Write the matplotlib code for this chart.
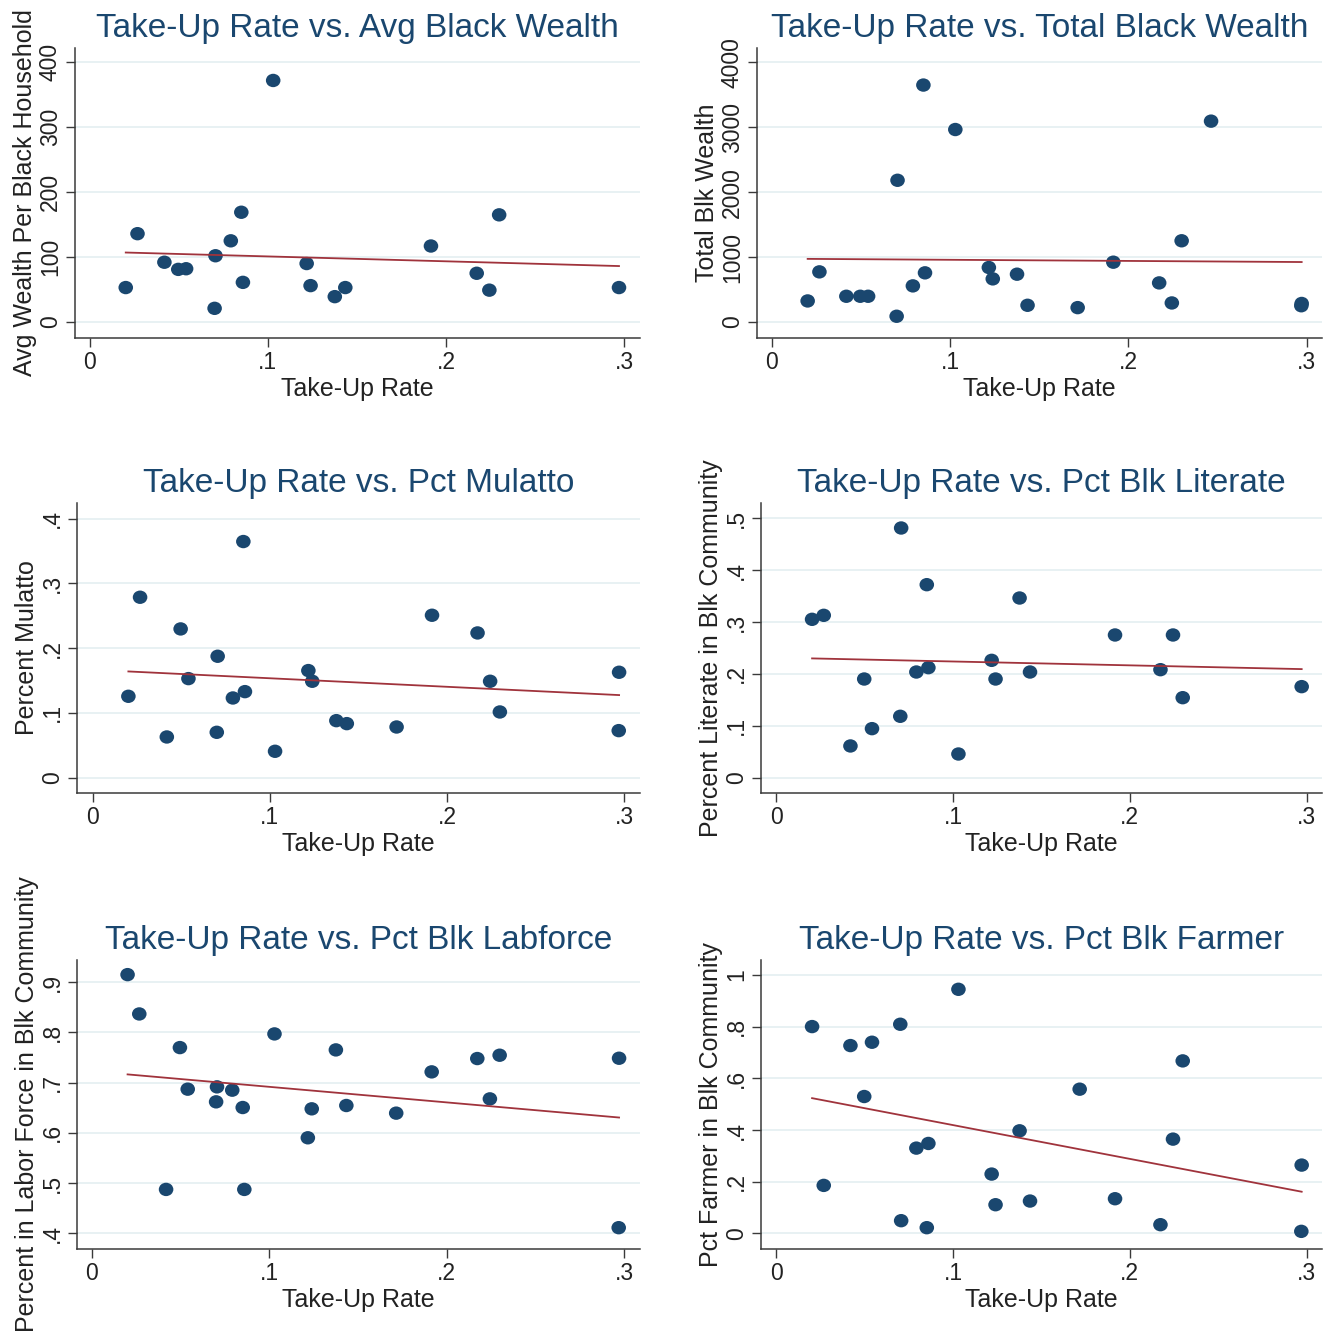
import numpy as np
import matplotlib
matplotlib.use("Agg")
import matplotlib.pyplot as plt
from matplotlib.path import Path
from matplotlib.transforms import Affine2D

nan = np.nan

# Shared x values (take-up rate per county)
take_up = [0.0202, 0.0268, 0.0419, 0.0497, 0.0541, 0.0701, 0.0706, 0.0792,
           0.0851, 0.0860, 0.1030, 0.1218, 0.1240, 0.1376, 0.1435, 0.1716,
           0.1916, 0.2173, 0.2244, 0.2299, 0.2464, 0.2970, 0.2972]

avg_wealth = [53, 136, 92, 81, 82, 21, 102, 125,
              169, 61, 372, 90, 56, 39, 53, nan,
              117, 75, 49, 165, nan, nan, 53]

total_wealth = [324, 772, 396, 396, 396, 88, 2183, 556,
                3650, 757, 2965, 839, 664, 736, 257, 221,
                921, 602, 293, 1251, 3094, 250, 285]

pct_mulatto = [0.1256, 0.2785, 0.0628, 0.2296, 0.1529, 0.0700, 0.1874, 0.1230,
               0.3645, 0.1328, 0.0407, 0.1653, 0.1488, 0.0880, 0.0834, 0.0782,
               0.2507, 0.2234, 0.1488, 0.1014, nan, 0.0726, 0.1627]

pct_literate = [0.3053, 0.3130, 0.0611, 0.1902, 0.0945, 0.1183, 0.4814, 0.2037,
                0.3721, 0.2121, 0.0456, 0.2262, 0.1902, 0.3464, 0.2037, nan,
                0.2751, 0.2082, 0.2751, 0.1542, nan, nan, 0.1755]

pct_labforce = [0.9146, 0.8364, 0.4874, 0.7695, 0.6868, 0.6616, 0.6914, 0.6848,
                0.6503, 0.4874, 0.7967, 0.5901, 0.6477, 0.7649, 0.6543, 0.6391,
                0.7212, 0.7477, 0.6675, 0.7543, nan, 0.4113, 0.7483]

pct_farmer = [0.8003, 0.1856, 0.7268, 0.5296, 0.7397, 0.8093, 0.0490, 0.3299,
              0.0219, 0.3479, 0.9446, 0.2294, 0.1108, 0.3969, 0.1250, 0.5580,
              0.1340, 0.0335, 0.3647, 0.6675, nan, 0.0077, 0.2642]

titles = ["Take-Up Rate vs. Avg Black Wealth", "Take-Up Rate vs. Total Black Wealth",
          "Take-Up Rate vs. Pct Mulatto", "Take-Up Rate vs. Pct Blk Literate",
          "Take-Up Rate vs. Pct Blk Labforce", "Take-Up Rate vs. Pct Blk Farmer"]
ylabels = ["Avg Wealth Per Black Household", "Total Blk Wealth", "Percent Mulatto",
           "Percent Literate in Blk Community", "Percent in Labor Force in Blk Community",
           "Pct Farmer in Blk Community"]
x_ticks = [0, 0.1, 0.2, 0.3]
x_ticklabels = ["0", ".1", ".2", ".3"]
y_ticks = [[0, 100, 200, 300, 400],
           [0, 1000, 2000, 3000, 4000],
           [0, 0.1, 0.2, 0.3, 0.4],
           [0, 0.1, 0.2, 0.3, 0.4, 0.5],
           [0.4, 0.5, 0.6, 0.7, 0.8, 0.9],
           [0, 0.2, 0.4, 0.6, 0.8, 1.0]]
y_ticklabels = [["0", "100", "200", "300", "400"],
                ["0", "1000", "2000", "3000", "4000"],
                ["0", ".1", ".2", ".3", ".4"],
                ["0", ".1", ".2", ".3", ".4", ".5"],
                [".4", ".5", ".6", ".7", ".8", ".9"],
                ["0", ".2", ".4", ".6", ".8", "1"]]
series = [avg_wealth, total_wealth, pct_mulatto, pct_literate, pct_labforce, pct_farmer]

W, H = 1334, 1332
# axes boxes in pixels: left, right, top, bottom ; and limits
boxes = [(75, 640, 48, 338), (757, 1322, 48, 338),
         (77, 640, 503, 793), (761, 1322, 503, 793),
         (77, 640, 960, 1249), (761, 1322, 960, 1249)]
xlims = [(-0.0083, 0.309), (-0.0082, 0.3086), (-0.0088, 0.309),
         (-0.0087, 0.3087), (-0.0083, 0.309), (-0.0087, 0.3087)]
ylims = [(-24.7, 422), (-247, 4221), (-0.0237, 0.424),
         (-0.0296, 0.5296), (0.3689, 0.9437), (-0.0606, 1.058)]

navy = "#1a476f"
maroon = "#a0333c"
gridc = "#e6f0f2"
axc = "#3a3a3a"
font = ["Liberation Sans", "DejaVu Sans"]
plt.rcParams['font.family'] = font

marker = Path.unit_circle().transformed(Affine2D().scale(1.0, 0.92))

fig = plt.figure(figsize=(W / 100, H / 100), dpi=100)
fig.patch.set_facecolor("white")

x_all = np.array(take_up)
for i in range(6):
    l, r, t, b = boxes[i]
    ax = fig.add_axes([l / W, 1 - b / H, (r - l) / W, (b - t) / H])
    y = np.array(series[i], dtype=float)
    m = ~np.isnan(y)
    xs, ys = x_all[m], y[m]
    for yt in y_ticks[i]:
        ax.axhline(yt, color=gridc, lw=1.3, zorder=0)
    ax.scatter(xs, ys, s=110, marker=marker, color=navy, edgecolors="none", zorder=2)
    slope, intercept = np.polyfit(xs, ys, 1)
    xl = np.array([xs.min(), xs.max()])
    ax.plot(xl, intercept + slope * xl, color=maroon, lw=1.3, zorder=3)
    ax.set_xlim(*xlims[i])
    ax.set_ylim(*ylims[i])
    ax.set_xticks(x_ticks)
    ax.set_xticklabels(x_ticklabels)
    ax.set_yticks(y_ticks[i])
    ax.set_yticklabels(y_ticklabels[i], rotation=90, va="center")
    for s in ["top", "right"]:
        ax.spines[s].set_visible(False)
    for s in ["left", "bottom"]:
        ax.spines[s].set_color(axc)
        ax.spines[s].set_linewidth(1.1)
    ax.tick_params(axis="both", direction="out", length=6.5, width=1.0, color=axc,
                   labelsize=16.5, labelcolor="#222222", pad=3)
    ax.set_xlabel("Take-Up Rate", fontsize=18, color="#222222", labelpad=2)
    ax.set_ylabel(ylabels[i], fontsize=18, color="#222222", labelpad=1)
    ax.set_title(titles[i], fontsize=24, color=navy, pad=8)
    ax.set_facecolor("white")

fig.savefig("out.png", dpi=100, facecolor="white")
